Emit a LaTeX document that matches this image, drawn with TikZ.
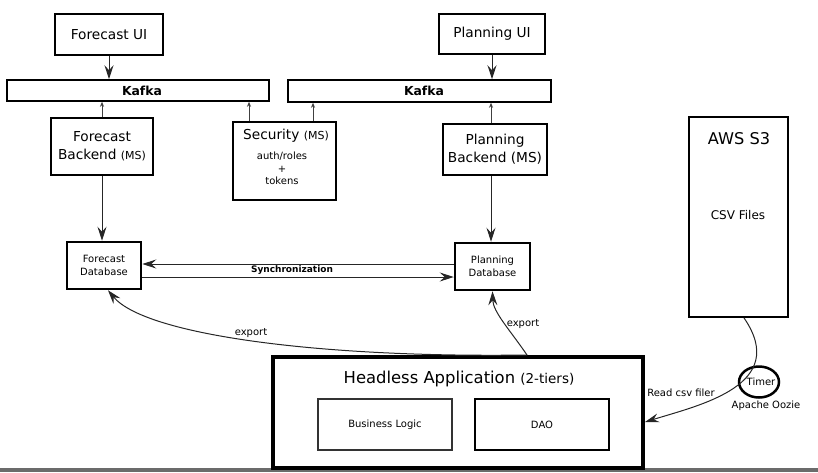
\documentclass[tikz,border=0pt]{standalone}
\usepackage{fontspec}
\setmainfont{DejaVu Sans}
\usetikzlibrary{arrows.meta,shapes.geometric}
\begin{document}
\begin{tikzpicture}[x=1pt,y=-1pt,
  box/.style={draw, rectangle, inner sep=0pt, line width=1.5pt, align=center},
  fbig/.style={font=\fontsize{13.7}{18}\selectfont},
  fhuge/.style={font=\fontsize{16.4}{20}\selectfont},
  fsmall/.style={font=\fontsize{10}{13}\selectfont},
  fkafka/.style={font=\fontsize{12.4}{15}\selectfont\bfseries},
  big/.style={-{Stealth[length=14pt,width=9pt,inset=5pt]}, line width=1pt, draw=black!85},
  small/.style={-{Stealth[length=5pt,width=4pt,inset=1.5pt]}, line width=1pt, draw=black!75},
  txt/.style={inner sep=0pt, align=center}
]
\useasboundingbox (0,0) rectangle (818,472);
\fill[black!58] (0,468) rectangle (818,472);

% top boxes
\node[box, fbig, minimum width=108pt, minimum height=41pt] (fui) at (109,34.5) {Forecast UI};
\node[box, fbig, minimum width=106pt, minimum height=40pt] (pui) at (492,34) {Planning UI};
\node[box, minimum width=262pt, minimum height=21pt] (k1) at (138,90.5) {};
\node[txt, fkafka] (k1t) at (142,90.7) {Kafka};
\node[box, minimum width=263pt, minimum height=22pt] (k2) at (419.5,91) {};
\node[txt, fkafka] (k2t) at (424,91) {Kafka};

\node[box, fbig, minimum width=102pt, minimum height=57pt] (fb) at (102,146.5)
  {Forecast\\Backend {\fontsize{11}{13}\selectfont (MS)}};
\node[box, line width=2pt, minimum width=103pt, minimum height=78pt] (sec) at (284.5,161) {};
\node[txt, fbig] (sect) at (286,136) {Security {\fontsize{11}{13}\selectfont (MS)}};
\node[txt, font=\fontsize{10}{12.5}\selectfont] (secs) at (282,168.5) {auth/roles\\+\\tokens};
\node[box, fbig, minimum width=104pt, minimum height=51pt] (pb) at (495,149.5)
  {Planning\\Backend (MS)};

% databases
\node[box, fsmall, line width=2.5pt, minimum width=74pt, minimum height=47pt] (fdb) at (104,265.5) {Forecast\\Database};
\node[box, fsmall, line width=2.5pt, minimum width=75pt, minimum height=47pt] (pdb) at (492.5,266.5) {Planning\\Database};

% AWS
\node[box, line width=1.8pt, minimum width=99pt, minimum height=200pt] (aws) at (738.5,217) {};
\node[txt, font=\fontsize{16.2}{19}\selectfont] (awst) at (739,139) {AWS S3};
\node[txt, font=\fontsize{12}{14}\selectfont] (csv) at (738,215) {CSV Files};

% headless
\node[box, line width=4pt, minimum width=370pt, minimum height=111pt] (head) at (458,412.5) {};
\node[txt, fhuge] (headt) at (459,379) {Headless Application {\fontsize{13.5}{16}\selectfont (2-tiers)}};
\node[box, fsmall, line width=1.3pt, draw=black!80, minimum width=134pt, minimum height=51pt] (bl) at (385,424.5) {Business Logic};
\node[box, fsmall, line width=1.5pt, minimum width=134pt, minimum height=51pt] (dao) at (542,424.5) {DAO};

% timer
\node[draw, ellipse, line width=2.5pt, minimum width=40pt, minimum height=31pt, inner sep=0pt] (timer) at (759,382) {};
\node[txt, fsmall] (timert) at (761,382) {Timer};
\node[txt, fsmall] (oozie) at (766,406) {Apache Oozie};

% connectors top
\draw[big] (fui.south) -- (fui.south |- k1.north);
\draw[big] (pui.south) -- (pui.south |- k2.north);
\draw[small] (fb.north) -- (fb.north |- k1.south);
\coordinate (s1) at ([xshift=-35.5pt]sec.north);
\coordinate (s2) at ([xshift=28.5pt]sec.north);
\draw[small] (s1) -- (s1 |- k1.south);
\draw[small] (s2) -- (s2 |- k2.south);
\coordinate (pbn) at ([xshift=-4pt]pb.north);
\coordinate (pbs) at ([xshift=-4pt]pb.south);
\draw[small] (pbn) -- (pbn |- k2.south);

% to databases
\draw[big] (fb.south) -- (fb.south |- fdb.north);
\draw[big] (pbs) -- (pbs |- pdb.north);

% synchronization
\coordinate (sy1) at ([yshift=2.5pt]pdb.west);
\coordinate (sy2) at ([yshift=-11.5pt]fdb.east);
\draw[big] (sy1) -- (sy1 -| fdb.east);
\draw[big] (sy2) -- (sy2 -| pdb.west);
\node[txt, font=\fontsize{9}{11}\selectfont\bfseries] (sync) at (292,270.5) {Synchronization};

% export
\coordinate (exs) at ([xshift=69pt]head.north);
\coordinate (fdbin) at ([xshift=4pt]fdb.south);
\draw[big] (exs) .. controls (320,358) and (145,335) .. (fdbin);
\draw[big] (exs) .. controls (510,330) and (493,312) .. (pdb.south);
\node[txt, fsmall] (ex1) at (251,333) {export};
\node[txt, fsmall] (ex2) at (523,324) {export};

% read csv
\coordinate (awsout) at ([xshift=5.5pt]aws.south);
\coordinate (headin) at ([yshift=-9.5pt]head.east);
\draw[big] (awsout) .. controls (790,385) and (700,405) .. (headin);
\node[txt, fsmall] (readcsv) at (681,393) {Read csv filer};
\end{tikzpicture}
\end{document}
